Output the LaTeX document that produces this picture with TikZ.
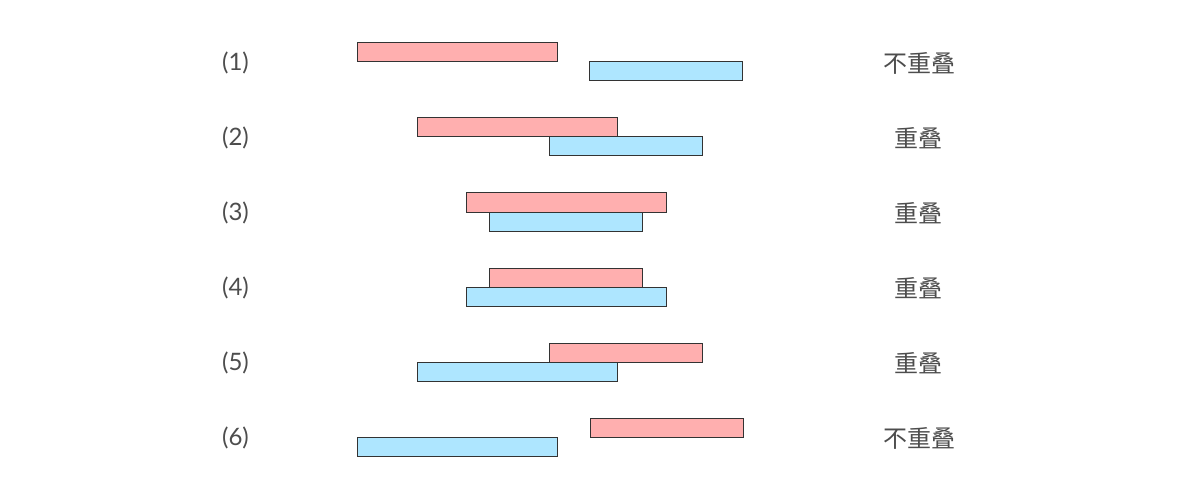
\documentclass[tikz,border=0pt]{standalone}
\usepackage{fontspec}
\setmainfont{Lato}
\newfontfamily\cjk{Noto Sans CJK SC}
\definecolor{rfill}{HTML}{FFAFAF}
\definecolor{bfill}{HTML}{AEE6FF}
\definecolor{edge}{HTML}{333333}
\definecolor{txt}{HTML}{4D4D4D}
\begin{document}
\begin{tikzpicture}[x=1pt,y=-1pt,
  bar/.style={draw=edge,line width=1pt},
  redbar/.style={bar,fill=rfill},
  bluebar/.style={bar,fill=bfill},
  num/.style={text=txt,font=\fontsize{24}{28}\selectfont,inner sep=0pt},
  res/.style={text=txt,font=\cjk\fontsize{24}{28}\selectfont,inner sep=0pt}]
\useasboundingbox (0,0) rectangle (1200,500);
% row 1
\node[num] (n1) at (235.5,63) {(1)};
\draw[redbar] (357,43) rectangle (557,62);
\draw[bluebar] (589,62) rectangle (742,81);
\node[res] (t1) at (919,63) {不重叠};
% row 2
\node[num] (n2) at (235.5,138) {(2)};
\draw[redbar] (417,118) rectangle (617,137);
\draw[bluebar] (549,137) rectangle (702,156);
\node[res] (t2) at (918.5,138) {重叠};
% row 3
\node[num] (n3) at (235.5,213) {(3)};
\draw[redbar] (466,193) rectangle (666,212);
\draw[bluebar] (489,212) rectangle (642,231);
\node[res] (t3) at (918.5,213) {重叠};
% row 4
\node[num] (n4) at (235.5,288) {(4)};
\draw[redbar] (489,268) rectangle (642,287);
\draw[bluebar] (466,287) rectangle (666,306);
\node[res] (t4) at (918.5,288) {重叠};
% row 5
\node[num] (n5) at (235.5,363) {(5)};
\draw[redbar] (549,343) rectangle (702,362);
\draw[bluebar] (417,362) rectangle (617,381);
\node[res] (t5) at (918.5,363) {重叠};
% row 6
\node[num] (n6) at (235.5,438) {(6)};
\draw[redbar] (590,418) rectangle (743,437);
\draw[bluebar] (357,437) rectangle (557,456);
\node[res] (t6) at (919,438) {不重叠};
\end{tikzpicture}
\end{document}
